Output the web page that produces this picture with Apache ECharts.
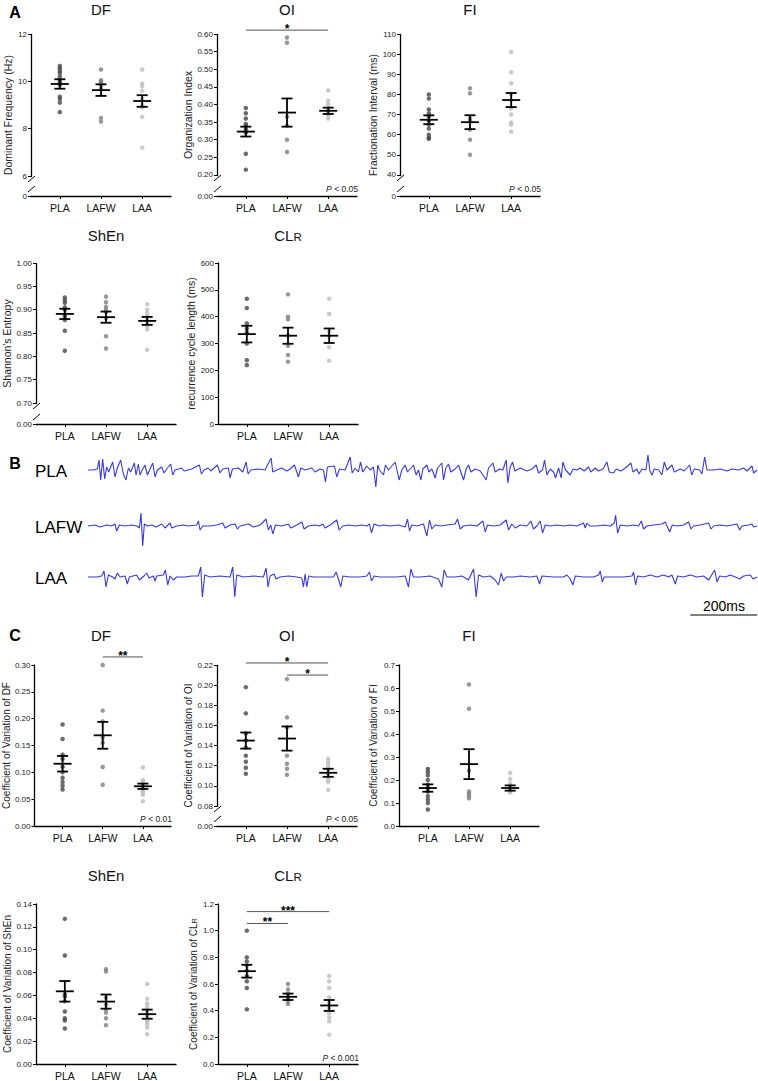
<!DOCTYPE html>
<html>
<head>
<meta charset="utf-8">
<script src="https://cdn.jsdelivr.net/npm/echarts@6/dist/echarts.min.js"></script>
<style>
  html, body { margin: 0; background: #fff; }
  #chart { width: 758px; height: 1081px; }
</style>
</head>
<body>
<div id="chart"></div>
<script>
const groups = ['PLA', 'LAFW', 'LAA'];
const groupColors = ['#474747', '#7f7f7f', '#bdbdbd'];

// ---- panel A: per-group values, mean and SEM ----
const aDF = [[10.65, 10.55, 10.45, 10.35, 10.2, 10.05, 9.95, 9.85, 9.35, 9.25, 9.1, 8.7],
             [10.5, 10.05, 10.0, 9.95, 9.85, 9.7, 8.45, 8.3],
             [10.5, 9.9, 9.8, 9.6, 9.25, 9.0, 8.9, 8.5, 7.2]];
const aDFMean = [9.89, 9.63, 9.17];
const aDFSem = [0.2, 0.245, 0.245];

const aOI = [[0.39, 0.375, 0.36, 0.345, 0.34, 0.33, 0.32, 0.26, 0.215],
             [0.59, 0.575, 0.365, 0.34, 0.3, 0.265],
             [0.44, 0.41, 0.40, 0.39, 0.385, 0.38, 0.375, 0.37, 0.36]];
const aOIMean = [0.323, 0.377, 0.382];
const aOISem = [0.014, 0.04, 0.009];

const aFI = [[80, 78, 72.5, 70.5, 69, 67, 65, 63, 60, 58.5, 58],
             [83, 80.5, 68, 67, 62.5, 57.5, 50],
             [101, 91, 85.5, 80, 77, 73, 70, 66, 65, 61.5]];
const aFIMean = [67.4, 66.2, 77.2];
const aFISem = [2.2, 3.45, 3.5];

const aShEn = [[0.926, 0.92, 0.915, 0.905, 0.9, 0.89, 0.885, 0.878, 0.855, 0.812],
               [0.928, 0.916, 0.906, 0.9, 0.895, 0.882, 0.843, 0.817],
               [0.912, 0.9, 0.892, 0.885, 0.878, 0.872, 0.865, 0.858, 0.814]];
const aShEnMean = [0.891, 0.884, 0.876];
const aShEnSem = [0.011, 0.012, 0.0085];

const aCLR = [[467, 432, 375, 355, 340, 300, 238, 220],
              [483, 400, 390, 330, 291, 257, 232],
              [467, 410, 345, 328, 286, 236]];
const aCLRMean = [335, 329, 329];
const aCLRSem = [31, 30, 27];

// ---- panel C: coefficient of variation ----
const cDF = [[0.189, 0.162, 0.133, 0.125, 0.11, 0.1, 0.09, 0.082, 0.075, 0.068],
             [0.30, 0.215, 0.195, 0.165, 0.155, 0.11, 0.077],
             [0.109, 0.086, 0.082, 0.079, 0.076, 0.073, 0.07, 0.066, 0.062, 0.058, 0.046]];
const cDFMean = [0.116, 0.169, 0.074];
const cDFSem = [0.0145, 0.025, 0.005];

const cOI = [[0.198, 0.172, 0.152, 0.145, 0.138, 0.13, 0.124, 0.118, 0.112],
             [0.206, 0.168, 0.158, 0.13, 0.122, 0.117, 0.111],
             [0.127, 0.124, 0.121, 0.118, 0.115, 0.112, 0.109, 0.106, 0.104, 0.096]];
const cOIMean = [0.145, 0.147, 0.113];
const cOISem = [0.008, 0.012, 0.004];

const cFI = [[0.248, 0.235, 0.22, 0.2, 0.18, 0.165, 0.15, 0.13, 0.115, 0.1, 0.072],
             [0.615, 0.51, 0.24, 0.15, 0.14, 0.13, 0.12],
             [0.23, 0.205, 0.185, 0.175, 0.165, 0.16, 0.155, 0.15, 0.145]];
const cFIMean = [0.165, 0.269, 0.165];
const cFISem = [0.016, 0.065, 0.0115];

const cShEn = [[0.127, 0.095, 0.061, 0.059, 0.055, 0.046, 0.04, 0.038, 0.031],
               [0.083, 0.081, 0.058, 0.052, 0.048, 0.045, 0.04, 0.034],
               [0.07, 0.057, 0.053, 0.05, 0.047, 0.045, 0.043, 0.041, 0.039, 0.037, 0.035, 0.032, 0.026]];
const cShEnMean = [0.0636, 0.0546, 0.0436];
const cShEnSem = [0.009, 0.0062, 0.004];

const cCLR = [[1.0, 0.8, 0.77, 0.74, 0.7, 0.66, 0.62, 0.57, 0.41],
              [0.6, 0.56, 0.53, 0.51, 0.49, 0.47, 0.45],
              [0.66, 0.62, 0.57, 0.5, 0.46, 0.42, 0.38, 0.35, 0.32, 0.22]];
const cCLRMean = [0.696, 0.504, 0.439];
const cCLRSem = [0.048, 0.024, 0.041];

// significance bars: [from group, to group, y value, stars]
const aOISig = [[1, 3, 0.611, '*']];
const cDFSig = [[2, 3, 0.315, '**']];
const cOISig = [[1, 3, 0.222, '*'], [2, 3, 0.210, '*']];
const cCLRSig = [[1, 3, 1.143, '***'], [1, 2, 1.054, '**']];

// ---- panel B: electrograms, [time ms, amplitude] ----
const plaTrace = [[0,0],[16,0],[28,1],[33,10],[38,-10],[44,11],[50,-9],[56,3],[62,-2],[74,8],[81,-7],[88,2],[98,10],[106,-4],[114,-10],[121,2],[128,-2],[139,7],[144,-5],[151,6],[156,-5],[164,1],[171,5],[178,-5],[186,1],[194,7],[201,-7],[208,0],[221,3],[228,-3],[236,1],[248,6],[254,-5],[261,0],[281,2],[288,-1],[311,1],[334,5],[340,-4],[348,0],[361,2],[368,-1],[388,5],[396,-3],[404,1],[421,2],[426,-8],[433,1],[451,2],[464,-2],[474,8],[480,-4],[488,0],[511,1],[531,0],[549,12],[554,-2],[566,0],[581,2],[596,-1],[606,1],[619,5],[631,-7],[638,2],[651,0],[671,2],[681,-2],[696,1],[706,0],[712,-12],[718,3],[739,4],[746,-7],[754,1],[771,0],[786,13],[792,-3],[801,2],[811,-2],[817,8],[824,-2],[836,4],[846,0],[856,3],[863,-17],[869,5],[874,0],[886,-5],[892,5],[901,0],[921,8],[933,-10],[941,0],[951,5],[958,-2],[976,5],[984,-5],[991,0],[998,-10],[1004,1],[1016,5],[1022,-2],[1031,1],[1041,-8],[1048,2],[1061,7],[1066,-10],[1073,2],[1081,6],[1088,-2],[1101,1],[1111,5],[1126,-10],[1134,1],[1141,5],[1148,-2],[1161,1],[1176,-1],[1194,-10],[1201,2],[1214,7],[1221,-2],[1234,1],[1244,0],[1254,10],[1259,-13],[1266,3],[1273,8],[1280,-1],[1296,2],[1316,-1],[1331,1],[1344,5],[1351,-3],[1363,0],[1369,10],[1376,-5],[1386,1],[1396,-2],[1402,-8],[1411,2],[1419,-8],[1424,8],[1432,0],[1446,-5],[1454,1],[1466,0],[1476,2],[1488,-1],[1501,3],[1508,-2],[1521,2],[1531,-1],[1544,1],[1556,8],[1563,-2],[1576,-3],[1584,1],[1598,-1],[1611,2],[1628,7],[1634,-2],[1646,1],[1652,-4],[1661,1],[1673,0],[1679,15],[1685,-1],[1691,-5],[1698,1],[1711,0],[1721,-5],[1728,8],[1736,0],[1751,5],[1758,-2],[1776,1],[1788,-1],[1804,5],[1810,-5],[1818,1],[1834,0],[1841,-4],[1849,13],[1856,0],[1876,0],[1896,1],[1916,-1],[1931,1],[1951,0],[1966,2],[1976,-1],[1991,4],[1996,-3],[2006,0]];

const lafwTrace = [[0,0],[21,1],[36,-1],[56,1],[71,0],[81,2],[86,-5],[94,1],[111,0],[131,1],[146,0],[154,-2],[159,13],[164,-20],[169,2],[178,0],[191,1],[204,-1],[221,2],[231,-2],[246,3],[251,-2],[266,0],[286,1],[301,0],[326,1],[331,5],[336,-4],[344,0],[366,0],[386,1],[404,3],[411,-2],[426,1],[441,2],[448,-3],[456,0],[481,2],[496,-1],[516,1],[534,7],[541,-4],[548,1],[554,-8],[562,1],[581,0],[601,2],[608,-2],[626,1],[641,4],[648,-3],[661,0],[681,1],[694,0],[704,2],[711,-2],[726,1],[746,6],[753,-4],[764,0],[781,1],[801,0],[821,1],[836,0],[844,2],[850,-7],[858,2],[874,0],[886,1],[906,0],[931,1],[951,-1],[958,7],[964,-5],[971,1],[986,0],[1006,2],[1016,-10],[1024,6],[1031,-3],[1041,1],[1056,0],[1076,1],[1101,2],[1108,7],[1116,-3],[1126,0],[1146,1],[1166,0],[1184,5],[1191,-6],[1198,1],[1216,0],[1236,1],[1254,6],[1261,-4],[1271,2],[1281,-2],[1296,1],[1316,0],[1328,5],[1336,-3],[1346,0],[1356,5],[1363,-7],[1371,1],[1386,0],[1406,1],[1426,0],[1446,1],[1466,0],[1486,3],[1491,-2],[1496,3],[1504,0],[1526,0],[1546,1],[1566,0],[1578,3],[1582,11],[1588,-7],[1596,1],[1616,0],[1636,1],[1651,0],[1659,5],[1666,-3],[1676,0],[1696,1],[1721,2],[1731,4],[1744,-6],[1752,1],[1766,0],[1786,1],[1801,4],[1808,-3],[1816,0],[1836,1],[1861,3],[1868,-3],[1876,0],[1896,1],[1916,0],[1946,2],[1954,-4],[1961,0],[1981,1],[1991,2],[1996,-1],[2006,0]];

const laaTrace = [[0,0],[26,0],[41,1],[48,6],[54,-10],[61,2],[74,0],[81,-2],[88,4],[96,0],[111,1],[118,-7],[124,0],[146,2],[154,-3],[168,1],[176,4],[183,-1],[196,1],[201,-4],[206,1],[226,2],[232,7],[239,-8],[246,1],[256,-3],[266,0],[291,0],[311,1],[331,1],[338,10],[343,-20],[350,2],[366,0],[396,1],[426,0],[434,10],[440,-20],[446,2],[466,0],[496,1],[526,0],[534,9],[540,-10],[546,1],[558,3],[564,-2],[576,0],[601,1],[626,0],[641,-1],[646,-10],[651,3],[656,-10],[662,1],[676,0],[706,0],[736,0],[744,5],[751,-2],[758,-10],[764,1],[786,0],[816,0],[836,1],[844,5],[850,-4],[858,1],[874,0],[896,0],[926,0],[951,1],[961,-10],[968,8],[976,0],[996,0],[1026,1],[1034,0],[1051,-2],[1061,-10],[1068,7],[1076,0],[1101,0],[1121,1],[1141,-3],[1156,8],[1164,-20],[1171,2],[1186,0],[1206,1],[1221,-3],[1231,-8],[1239,4],[1246,-4],[1254,0],[1276,0],[1296,1],[1326,0],[1346,1],[1354,-7],[1361,1],[1396,0],[1426,0],[1436,2],[1446,-2],[1454,-8],[1461,1],[1486,0],[1516,0],[1531,2],[1536,6],[1542,-5],[1548,0],[1576,0],[1606,0],[1631,1],[1636,5],[1642,-8],[1648,1],[1666,0],[1686,2],[1706,0],[1726,2],[1741,0],[1751,2],[1761,-7],[1768,1],[1786,0],[1806,2],[1826,0],[1846,1],[1861,-3],[1879,7],[1886,-5],[1894,1],[1911,0],[1926,2],[1941,0],[1954,-2],[1966,1],[1986,2],[1994,-2],[2006,0]];

const scaleBarMs = [1806, 2006];

// ---- layout ----
const FONT = '"Liberation Sans", Arial, sans-serif';
const PW = 140;

const panels = [
  { title: 'DF', vals: aDF, mean: aDFMean, sem: aDFSem, sig: [], p: '', left: 31, top: 34, h: 162,
    max: 12, step: 2, dec: 0, brk: [0, 6], gap: '12.3%', name: 'Dominant Frequency (Hz)', nameGap: 18, nameSize: 10.5 },
  { title: 'OI', vals: aOI, mean: aOIMean, sem: aOISem, sig: aOISig, p: '{i|P} < 0.05', left: 217, top: 34, h: 162,
    max: 0.6, step: 0.05, dec: 2, brk: [0, 0.2], gap: '13%', name: 'Organization Index', nameGap: 23, nameSize: 10.5 },
  { title: 'FI', vals: aFI, mean: aFIMean, sem: aFISem, sig: [], p: '{i|P} < 0.05', left: 400, top: 34, h: 162,
    max: 110, step: 10, dec: 0, brk: [0, 40], gap: '13%', name: 'Fractionation Interval (ms)', nameGap: 21, nameSize: 10.5 },
  { title: 'ShEn', vals: aShEn, mean: aShEnMean, sem: aShEnSem, sig: [], p: '', left: 36, top: 263, h: 161,
    max: 1, step: 0.05, dec: 2, brk: [0, 0.7], gap: '13%', name: "Shannon's Entropy", nameGap: 23, nameSize: 10.5 },
  { title: '{a|CL}{b|R}', vals: aCLR, mean: aCLRMean, sem: aCLRSem, sig: [], p: '', left: 218, top: 263, h: 161,
    max: 600, step: 100, dec: 0, brk: null, name: 'recurrence cycle length (ms)', nameGap: 20, nameSize: 10.5 },
  { title: 'DF', vals: cDF, mean: cDFMean, sem: cDFSem, sig: cDFSig, p: '{i|P} < 0.01', left: 31, top: 665, h: 161,
    max: 0.3, step: 0.05, dec: 2, brk: null, name: 'Coefficient of Variation of DF', nameGap: 20, nameSize: 10 },
  { title: 'OI', vals: cOI, mean: cOIMean, sem: cOISem, sig: cOISig, p: '{i|P} < 0.05', left: 217, top: 665, h: 161,
    max: 0.22, step: 0.02, dec: 2, brk: [0, 0.08], gap: '12.4%', name: 'Coefficient of Variation of OI', nameGap: 24, nameSize: 10 },
  { title: 'FI', vals: cFI, mean: cFIMean, sem: cFISem, sig: [], p: '', left: 399, top: 665, h: 161,
    max: 0.7, step: 0.1, dec: 1, brk: null, name: 'Coefficient of Variation of FI', nameGap: 21, nameSize: 10 },
  { title: 'ShEn', vals: cShEn, mean: cShEnMean, sem: cShEnSem, sig: [], p: '', left: 36, top: 904, h: 161,
    max: 0.14, step: 0.02, dec: 2, brk: null, name: 'Coefficient of Variation of ShEn', nameGap: 20, nameSize: 10 },
  { title: '{a|CL}{b|R}', vals: cCLR, mean: cCLRMean, sem: cCLRSem, sig: cCLRSig, p: '{i|P} < 0.001', left: 218, top: 904, h: 161,
    max: 1.2, step: 0.2, dec: 1, brk: null, name: '{n|Coefficient of Variation of CL}{s|R}', nameGap: 17, nameSize: 10 }
];
const titleY = [9, 9, 9, 235, 235, 635, 635, 635, 875, 875];

const traces = [
  { label: 'PLA', data: plaTrace, mid: 470 },
  { label: 'LAFW', data: lafwTrace, mid: 526 },
  { label: 'LAA', data: laaTrace, mid: 577 }
];

const grids = [], xAxes = [], yAxes = [], series = [], graphics = [];

panels.forEach((p, i) => {
  grids.push({ left: p.left, top: p.top, width: PW, height: p.h });
  xAxes.push({
    type: 'value', gridIndex: i, min: 0.3, max: 3.7,
    splitLine: { show: false },
    axisLine: { onZero: false, lineStyle: { color: '#000', width: 1.3 } },
    axisTick: { customValues: [1, 2, 3], length: 3, lineStyle: { color: '#000' } },
    axisLabel: { customValues: [1, 2, 3], formatter: v => groups[Math.round(v) - 1],
      fontSize: 10.5, color: '#111', margin: 6, fontFamily: FONT }
  });
  const y = {
    type: 'value', gridIndex: i, min: 0, max: p.max, interval: p.step,
    splitLine: { show: false },
    axisLine: { show: true, lineStyle: { color: '#000', width: 1.3 } },
    axisTick: { show: true, length: 3, lineStyle: { color: '#000' } },
    axisLabel: { fontSize: 8, color: '#222', margin: 4, fontFamily: FONT, formatter: v => v.toFixed(p.dec) },
    name: p.name, nameLocation: 'middle', nameGap: p.nameGap,
    nameTextStyle: { fontSize: p.nameSize, color: '#222', fontFamily: FONT,
      rich: {
        n: { fontSize: p.nameSize, color: '#222', fontFamily: FONT, verticalAlign: 'bottom' },
        s: { fontSize: p.nameSize * 0.75, color: '#222', fontFamily: FONT, verticalAlign: 'bottom' }
      } }
  };
  if (p.brk) {
    y.breaks = [{ start: p.brk[0], end: p.brk[1], gap: p.gap }];
    y.breakArea = { show: false };
  }
  yAxes.push(y);

  // individual points
  p.vals.forEach((vs, k) => {
    series.push({
      type: 'scatter', xAxisIndex: i, yAxisIndex: i, symbolSize: 4.5,
      itemStyle: { color: groupColors[k] },
      data: vs.map(v => [k + 1, v])
    });
  });

  // mean ± SEM
  series.push({
    type: 'custom', xAxisIndex: i, yAxisIndex: i, z: 5,
    data: p.mean.map((m, k) => [k + 1, m, p.sem[k]]),
    renderItem: (params, api) => {
      const x = api.value(0), m = api.value(1), s = api.value(2);
      const c = api.coord([x, m]), hi = api.coord([x, m + s]), lo = api.coord([x, m - s]);
      const st = { stroke: '#000', lineWidth: 1.8 };
      return { type: 'group', children: [
        { type: 'line', shape: { x1: c[0] - 9, y1: c[1], x2: c[0] + 9, y2: c[1] }, style: st },
        { type: 'line', shape: { x1: hi[0], y1: hi[1], x2: lo[0], y2: lo[1] }, style: st },
        { type: 'line', shape: { x1: hi[0] - 5.5, y1: hi[1], x2: hi[0] + 5.5, y2: hi[1] }, style: st },
        { type: 'line', shape: { x1: lo[0] - 5.5, y1: lo[1], x2: lo[0] + 5.5, y2: lo[1] }, style: st }
      ] };
    }
  });

  // significance bars
  if (p.sig.length) {
    series.push({
      type: 'custom', xAxisIndex: i, yAxisIndex: i, z: 5, clip: false,
      data: p.sig.map(s => [s[0], s[1], s[2]]),
      renderItem: (params, api) => {
        const a = api.coord([api.value(0), api.value(2)]), b = api.coord([api.value(1), api.value(2)]);
        return { type: 'group', children: [
          { type: 'line', shape: { x1: a[0], y1: a[1], x2: b[0], y2: b[1] }, style: { stroke: '#555', lineWidth: 1 } },
          { type: 'text', x: (a[0] + b[0]) / 2, y: a[1] - 1,
            style: { text: p.sig[params.dataIndex][3], fontSize: 12, fontWeight: 'bold', fontFamily: FONT,
              fill: '#000', align: 'center', verticalAlign: 'middle' } }
        ] };
      }
    });
  }

  // axis break marks
  if (p.brk) {
    series.push({
      type: 'custom', xAxisIndex: i, yAxisIndex: i, z: 10, clip: false, silent: true,
      data: [[0.3, p.brk[0], p.brk[1]]],
      renderItem: (params, api) => {
        const lo = api.coord([api.value(0), api.value(1)]);
        const hi = api.coord([api.value(0), api.value(2)]);
        const x = lo[0], yA = hi[1] + 3, yB = lo[1] - 7;
        const st = { stroke: '#000', lineWidth: 1 };
        return { type: 'group', children: [
          { type: 'rect', shape: { x: x - 2, y: yA, width: 4, height: yB - yA }, style: { fill: '#fff' } },
          { type: 'line', shape: { x1: x - 3, y1: yA + 3, x2: x + 4, y2: yA - 3 }, style: st },
          { type: 'line', shape: { x1: x - 3, y1: yB + 3, x2: x + 4, y2: yB - 3 }, style: st }
        ] };
      }
    });
  }

  // panel title
  graphics.push({ type: 'text', x: p.left + PW / 2, y: titleY[i],
    style: { text: p.title, fontSize: 15, fontFamily: FONT, fill: '#111', align: 'center', verticalAlign: 'middle',
      rich: {
        a: { fontSize: 15, fontFamily: FONT, fill: '#111', verticalAlign: 'bottom' },
        b: { fontSize: 11.5, fontFamily: FONT, fill: '#111', verticalAlign: 'bottom' }
      } } });
  if (p.p) {
    graphics.push({ type: 'text', x: p.left + PW + 1, y: p.top + p.h - 7,
      style: { text: p.p, fontSize: 8.5, fontFamily: FONT, fill: '#222', align: 'right', verticalAlign: 'middle',
        rich: { i: { fontStyle: 'italic', fontSize: 8.5, fontFamily: FONT, fill: '#222' } } } });
  }
});

// electrogram traces
traces.forEach((t, j) => {
  const gi = panels.length + j;
  grids.push({ left: 88, top: t.mid - 25, width: 669, height: 50 });
  xAxes.push({ type: 'value', gridIndex: gi, min: 0, max: 2006, show: false });
  yAxes.push({ type: 'value', gridIndex: gi, min: -25, max: 25, show: false });
  series.push({
    type: 'line', xAxisIndex: gi, yAxisIndex: gi, showSymbol: false, silent: true,
    lineStyle: { color: '#3a3ad8', width: 1.1 }, data: t.data
  });
  graphics.push({ type: 'text', x: 35, y: t.mid + 1,
    style: { text: t.label, fontSize: 17, fontFamily: FONT, fill: '#000', align: 'left', verticalAlign: 'middle' } });
});
series.push({
  type: 'line', xAxisIndex: panels.length + 2, yAxisIndex: panels.length + 2, clip: false, silent: true,
  showSymbol: false, lineStyle: { color: '#000', width: 1.2 },
  data: scaleBarMs.map(t => [t, -38])
});
graphics.push({ type: 'text', x: 724, y: 606,
  style: { text: '200ms', fontSize: 14, fontFamily: FONT, fill: '#000', align: 'center', verticalAlign: 'middle' } });

// panel letters
[['A', 12], ['B', 463], ['C', 635]].forEach(([l, y]) => {
  graphics.push({ type: 'text', x: 15, y: y,
    style: { text: l, fontSize: 16, fontWeight: 'bold', fontFamily: FONT, fill: '#000', align: 'center', verticalAlign: 'middle' } });
});

const chart = echarts.init(document.getElementById('chart'), null, { renderer: 'svg' });
chart.setOption({
  animation: false,
  backgroundColor: '#fff',
  textStyle: { fontFamily: FONT },
  grid: grids,
  xAxis: xAxes,
  yAxis: yAxes,
  series: series,
  graphic: graphics
});
</script>
</body>
</html>
